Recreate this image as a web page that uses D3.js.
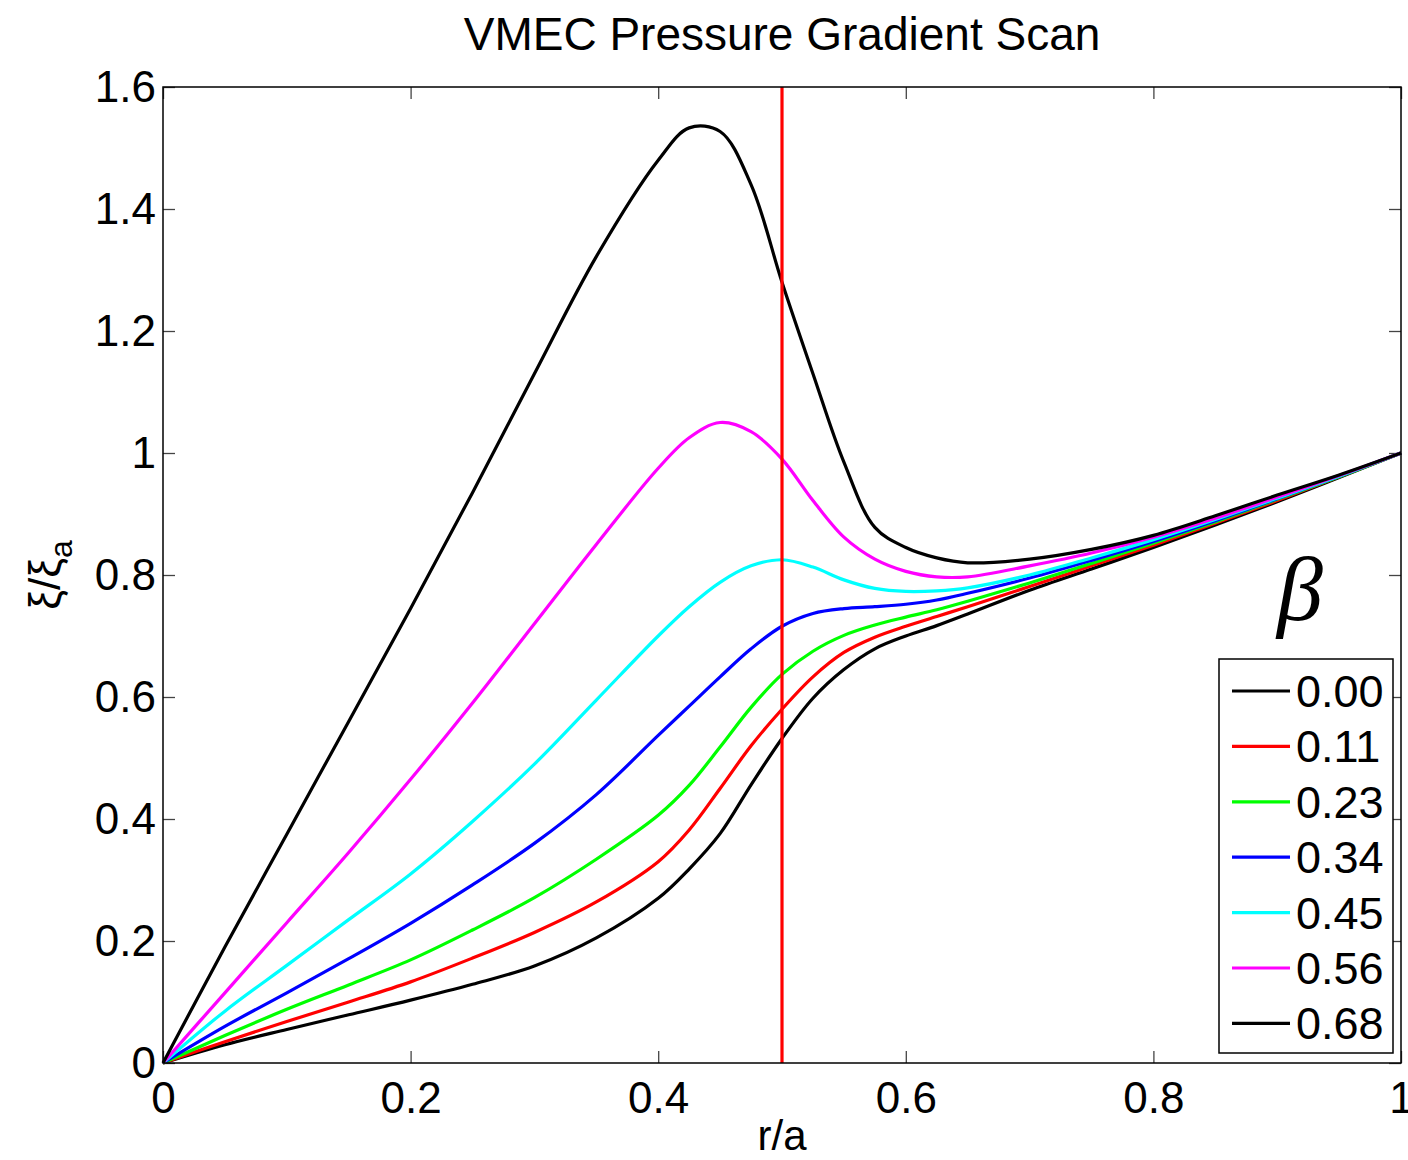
<!DOCTYPE html>
<html>
<head>
<meta charset="utf-8">
<script src="https://cdn.jsdelivr.net/npm/d3@7"></script>
<style>
    body { margin: 0; background: #fff; }
    svg text { font-family: "Liberation Sans", Arial, Helvetica, sans-serif; }
</style>
</head>
<body>
<svg id="chart" width="1408" height="1160"></svg>
<script>
// r/a sample points (shared by every curve)
var rGrid = [0, 0.05, 0.1, 0.15, 0.2, 0.25, 0.3, 0.35, 0.4, 0.425, 0.45, 0.475, 0.5,
    0.525, 0.55, 0.575, 0.6, 0.625, 0.65, 0.7, 0.75, 0.8, 0.85, 0.9, 0.95, 1];

// xi / xi_a for each beta
var xi000 = [0, 0.03, 0.055, 0.079, 0.103, 0.129, 0.159, 0.205, 0.27, 0.318, 0.376, 0.456, 0.532,
    0.598, 0.645, 0.679, 0.70, 0.717, 0.736, 0.775, 0.81, 0.845, 0.882, 0.92, 0.96, 1];
var xi011 = [0, 0.035, 0.068, 0.10, 0.133, 0.172, 0.214, 0.264, 0.33, 0.382, 0.45, 0.52, 0.58,
    0.633, 0.673, 0.698, 0.716, 0.732, 0.748, 0.781, 0.815, 0.849, 0.885, 0.922, 0.961, 1];
var xi023 = [0, 0.045, 0.088, 0.128, 0.169, 0.218, 0.271, 0.334, 0.406, 0.455, 0.518, 0.583, 0.637,
    0.675, 0.701, 0.718, 0.731, 0.743, 0.757, 0.787, 0.819, 0.852, 0.887, 0.924, 0.961, 1];
var xi034 = [0, 0.06, 0.115, 0.171, 0.229, 0.292, 0.36, 0.44, 0.537, 0.585, 0.633, 0.679, 0.716,
    0.737, 0.745, 0.748, 0.752, 0.759, 0.770, 0.795, 0.824, 0.855, 0.889, 0.925, 0.962, 1];
var xi045 = [0, 0.085, 0.16, 0.235, 0.31, 0.396, 0.49, 0.595, 0.70, 0.748, 0.788, 0.815, 0.825,
    0.813, 0.792, 0.778, 0.773, 0.774, 0.779, 0.80, 0.828, 0.858, 0.891, 0.926, 0.962, 1];
var xi056 = [0, 0.115, 0.23, 0.345, 0.465, 0.59, 0.72, 0.85, 0.975, 1.025, 1.05, 1.035, 0.99,
    0.922, 0.862, 0.826, 0.806, 0.797, 0.797, 0.815, 0.836, 0.862, 0.893, 0.928, 0.963, 1];
var xi068 = [0, 0.19, 0.375, 0.56, 0.745, 0.935, 1.13, 1.322, 1.48, 1.533, 1.527, 1.44, 1.28,
    1.13, 0.985, 0.878, 0.845, 0.828, 0.82, 0.826, 0.842, 0.865, 0.897, 0.931, 0.964, 1];

var betaLabels = ["0.00", "0.11", "0.23", "0.34", "0.45", "0.56", "0.68"];
var lineColors = ["#000000", "#ff0000", "#00ff00", "#0000ff", "#00ffff", "#ff00ff", "#000000"];
var xTicks = [0, 0.2, 0.4, 0.6, 0.8, 1];
var yTicks = [0, 0.2, 0.4, 0.6, 0.8, 1, 1.2, 1.4, 1.6];
var markerR = [0.5];

(function () {
    var svg = d3.select("#chart"),
        left = 163, right = 1401, top = 87, bottom = 1063,
        x, y, line, series, fmt, legend, ylab, items;

    x = d3.scaleLinear().domain([0, 1]).range([left, right]);
    y = d3.scaleLinear().domain([0, 1.6]).range([bottom, top]);

    series = [xi000, xi011, xi023, xi034, xi045, xi056, xi068].map(function (vals, i) {
        return {
            label: betaLabels[i],
            color: lineColors[i],
            points: rGrid.map(function (r, j) { return [r, vals[j]]; })
        };
    });

    fmt = function (d) { return d === 0 ? "0" : String(d); };

    // ticks point inward on all four sides, like matlab's box
    svg.append("g")
        .attr("class", "axis")
        .attr("transform", "translate(0," + bottom + ")")
        .call(d3.axisBottom(x).tickValues(xTicks).tickSize(-12).tickPadding(19).tickFormat(fmt));
    svg.append("g")
        .attr("class", "axis")
        .attr("transform", "translate(" + left + ",0)")
        .call(d3.axisLeft(y).tickValues(yTicks).tickSize(-12).tickPadding(7).tickFormat(fmt));
    svg.append("g")
        .attr("class", "axis")
        .attr("transform", "translate(0," + top + ")")
        .call(d3.axisTop(x).tickValues(xTicks).tickSize(-12).tickFormat(""));
    svg.append("g")
        .attr("class", "axis")
        .attr("transform", "translate(" + right + ",0)")
        .call(d3.axisRight(y).tickValues(yTicks).tickSize(-12).tickFormat(""));

    svg.selectAll(".axis .domain").remove();
    svg.selectAll(".axis line").attr("stroke", "#444").attr("stroke-width", 1.3);
    svg.selectAll(".axis text")
        .attr("fill", "#000")
        .style("font-size", "44px")
        .style("font-family", "'Liberation Sans', Arial, sans-serif");

    line = d3.line()
        .x(function (d) { return x(d[0]); })
        .y(function (d) { return y(d[1]); })
        .curve(d3.curveCatmullRom.alpha(0.5));

    svg.append("g")
        .selectAll("path")
        .data(series)
        .enter()
        .append("path")
        .attr("d", function (s) { return line(s.points); })
        .attr("fill", "none")
        .attr("stroke", function (s) { return s.color; })
        .attr("stroke-width", 3.2)
        .attr("stroke-linejoin", "round");

    // marker at r/a = 0.5
    svg.selectAll(".marker")
        .data(markerR)
        .enter()
        .append("line")
        .attr("class", "marker")
        .attr("x1", function (d) { return x(d); })
        .attr("x2", function (d) { return x(d); })
        .attr("y1", y(0))
        .attr("y2", y(1.6))
        .attr("stroke", "#ff0000")
        .attr("stroke-width", 3.2);

    // frame
    svg.append("rect")
        .attr("x", left)
        .attr("y", top)
        .attr("width", right - left)
        .attr("height", bottom - top)
        .attr("fill", "none")
        .attr("stroke", "#000")
        .attr("stroke-width", 1.5);

    svg.append("text")
        .attr("x", (left + right) / 2)
        .attr("y", 50)
        .attr("text-anchor", "middle")
        .style("font-size", "46px")
        .text("VMEC Pressure Gradient Scan");

    svg.append("text")
        .attr("x", (left + right) / 2)
        .attr("y", 1150)
        .attr("text-anchor", "middle")
        .style("font-size", "42px")
        .text("r/a");

    ylab = svg.append("text")
        .attr("transform", "translate(60," + ((top + bottom) / 2) + ") rotate(-90)")
        .attr("text-anchor", "middle")
        .style("font-size", "44px");
    ylab.append("tspan").text("ξ/ξ");
    ylab.append("tspan").attr("dy", 12).style("font-size", "32px").text("a");

    svg.append("text")
        .attr("x", 1300)
        .attr("y", 620)
        .attr("text-anchor", "middle")
        .style("font-family", "'Liberation Serif', 'Times New Roman', serif")
        .style("font-style", "italic")
        .style("font-size", "92px")
        .text("β");

    // legend
    legend = svg.append("g").attr("transform", "translate(1219,659)");
    legend.append("rect")
        .attr("width", 174)
        .attr("height", 394)
        .attr("fill", "#fff")
        .attr("stroke", "#000")
        .attr("stroke-width", 1.5);

    items = legend.selectAll(".item")
        .data(series)
        .enter()
        .append("g")
        .attr("class", "item")
        .attr("transform", function (s, i) { return "translate(0," + (32 + i * 55.4) + ")"; });
    items.append("line")
        .attr("x1", 13)
        .attr("x2", 71)
        .attr("stroke", function (s) { return s.color; })
        .attr("stroke-width", 3.2);
    items.append("text")
        .attr("x", 77)
        .attr("y", 16)
        .style("font-size", "45px")
        .text(function (s) { return s.label; });
})();
</script>
</body>
</html>
